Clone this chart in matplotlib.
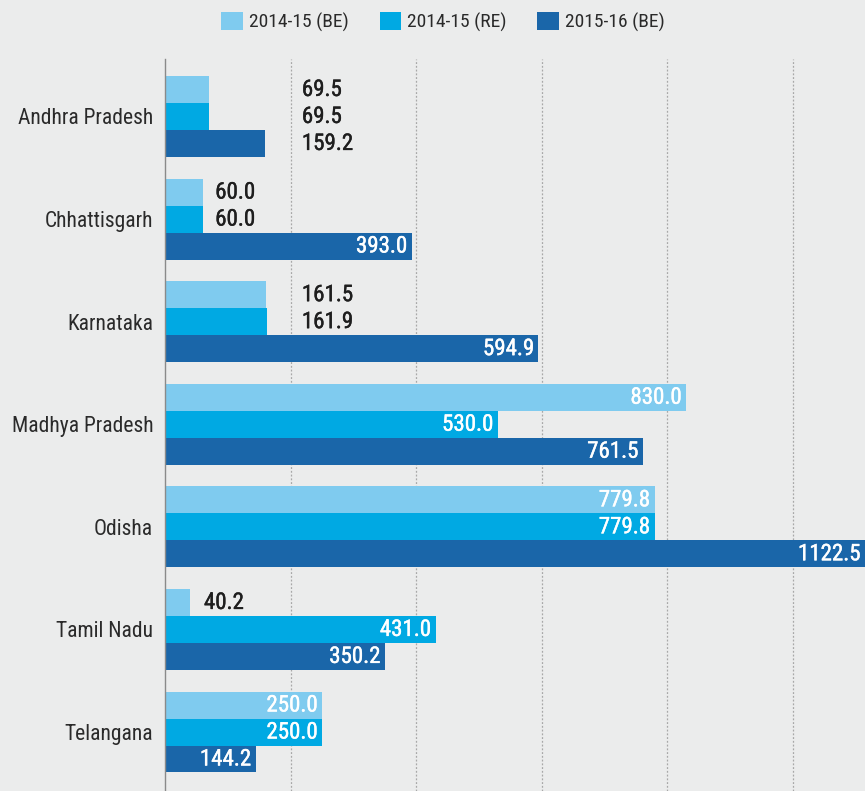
import numpy as np
import matplotlib.pyplot as plt
import matplotlib.patheffects as pe

states = ['Andhra Pradesh', 'Chhattisgarh', 'Karnataka', 'Madhya Pradesh',
          'Odisha', 'Tamil Nadu', 'Telangana']
be_1415 = [69.5, 60.0, 161.5, 830.0, 779.8, 40.2, 250.0]
re_1415 = [69.5, 60.0, 161.9, 530.0, 779.8, 431.0, 250.0]
be_1516 = [159.2, 393.0, 594.9, 761.5, 1122.5, 350.2, 144.2]
series_labels = ['2014-15 (BE)', '2014-15 (RE)', '2015-16 (BE)']

colors = ['#7fcbef', '#00a9e3', '#1a66a9']
bg = '#ebecec'
# labels drawn outside the bar, at a fixed x for the state
outside_x = {'Andhra Pradesh': 218, 'Chhattisgarh': 80,
             'Karnataka': 218, 'Tamil Nadu': 62}

plt.rcParams['font.family'] = ['Roboto Condensed', 'DejaVu Sans']

fig = plt.figure(figsize=(8.65, 7.91), dpi=100, facecolor=bg)
ax = fig.add_axes([165 / 865, 0, 700 / 865, 732 / 791], facecolor=bg)

y = np.arange(len(states))
h = 0.263
series = [be_1415, re_1415, be_1516]
for k, vals in enumerate(series):
    ypos = y + (k - 1) * h
    ax.barh(ypos, vals, height=h, color=colors[k], label=series_labels[k],
            zorder=2)
    for i, v in enumerate(vals):
        st = states[i]
        if st in outside_x and v < 170:
            c, xv, ha = '#1e1e1e', outside_x[st], 'left'
        else:
            c, xv, ha = 'white', min(v, 1115) - 7, 'right'
        ax.text(xv, ypos[i], f'{v:.1f}', ha=ha, va='center', color=c,
                fontsize=16.5, zorder=3,
                path_effects=[pe.withStroke(linewidth=0.3, foreground=c)])

ax.set_xlim(0, 1115)
ax.set_ylim(6.575, -0.56)
ax.set_yticks(y)
ax.set_yticklabels(states, fontsize=15.5, color='#2a2a2a')
ax.tick_params(axis='y', length=0, pad=8.5)
ax.set_xticks([200, 400, 600, 800, 1000])
ax.tick_params(axis='x', length=0, labelbottom=False)
ax.grid(axis='x', color='#a8a8a8', linestyle=(0, (1.5, 1.5)), linewidth=0.9,
        zorder=1)
for s in ['top', 'right', 'bottom']:
    ax.spines[s].set_visible(False)
ax.spines['left'].set_color('#8a8a8a')
ax.spines['left'].set_linewidth(1)

fig.legend(loc='center', bbox_to_anchor=(0.512, 1 - 22 / 791), ncol=3,
           frameon=False, fontsize=14, handlelength=1.1, handleheight=1.0,
           columnspacing=1.6, handletextpad=0.3, labelcolor='#2a2a2a')

fig.savefig('out.png', dpi=100, facecolor=bg)
